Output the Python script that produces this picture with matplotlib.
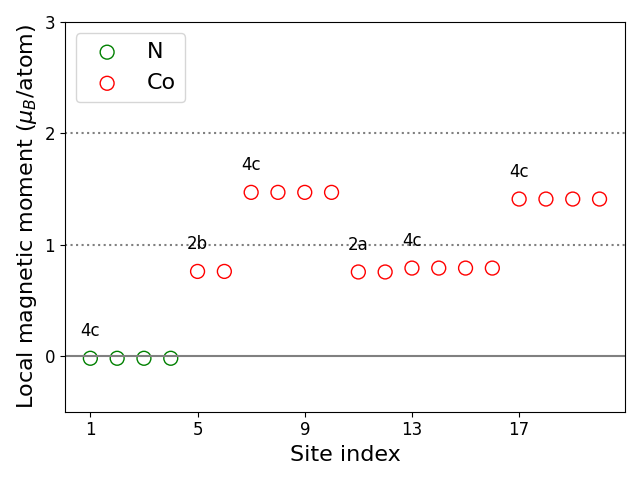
import matplotlib
matplotlib.use("Agg")
import matplotlib.pyplot as plt

n_sites = [1, 2, 3, 4]
n_moments = [-0.02, -0.02, -0.02, -0.02]
co_sites = list(range(5, 21))
co_moments = [0.76, 0.76, 1.47, 1.47, 1.47, 1.47, 0.755, 0.755,
              0.79, 0.79, 0.79, 0.79, 1.41, 1.41, 1.41, 1.41]
wyckoff_labels = ["4c", "2b", "4c", "2a", "4c", "4c"]
wyckoff_sites = [1, 5, 7, 11, 13, 17]
wyckoff_y = [-0.02, 0.76, 1.47, 0.755, 0.79, 1.41]

fig, ax = plt.subplots(figsize=(6.4, 4.8), dpi=100)
ax.axhline(0, color='grey', lw=1.5)
ax.axhline(1, color='grey', ls=':', lw=1.5)
ax.axhline(2, color='grey', ls=':', lw=1.5)
ax.scatter(n_sites, n_moments, s=100, facecolors='none', edgecolors='green', label='N')
ax.scatter(co_sites, co_moments, s=100, facecolors='none', edgecolors='red', label='Co')
for lab, xs, ys in zip(wyckoff_labels, wyckoff_sites, wyckoff_y):
    ax.text(xs, ys + 0.2, lab, ha='center', va='baseline', fontsize=12)
ax.set_ylim(-0.5, 3)
ax.set_xticks([1, 5, 9, 13, 17])
ax.set_yticks([0, 1, 2, 3])
ax.tick_params(labelsize=12)
ax.set_xlabel('Site index', fontsize=16)
ax.set_ylabel(r'Local magnetic moment ($\mu_B$/atom)', fontsize=16)
ax.legend(fontsize=16, loc='upper left')
fig.tight_layout()
fig.savefig('out.png')
